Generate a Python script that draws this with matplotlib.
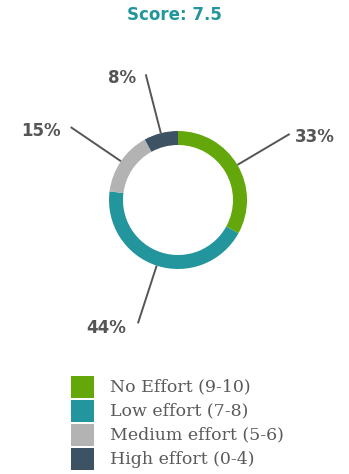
import numpy as np
import matplotlib
matplotlib.use("Agg")
import matplotlib.pyplot as plt
from matplotlib.patches import Rectangle

# effort split
categories = ['No Effort (9-10)', 'Low effort (7-8)', 'Medium effort (5-6)', 'High effort (0-4)']
shares = [33, 44, 15, 8]
colors = ['#64A70B', '#23959D', '#B3B3B3', '#3D5363']
score = 7.5

W, H = 349, 474
fig = plt.figure(figsize=(W / 100, H / 100), dpi=100)
ax = fig.add_axes([0, 0, 1, 1])

cx, cy, R = 178, H - 200, 69
wedges, _ = ax.pie(shares, colors=colors, startangle=90, counterclock=False,
                   center=(cx, cy), radius=R, frame=True,
                   wedgeprops=dict(width=14, edgecolor='none'))
ax.set_xlim(0, W)
ax.set_ylim(0, H)
ax.set_aspect('equal')
ax.axis('off')

label_font = dict(family='DejaVu Sans', weight='bold', size=12, color='#555555')
for w, s in zip(wedges, shares):
    mid = np.deg2rad((w.theta1 + w.theta2) / 2)
    x0, y0 = cx + R * np.cos(mid), cy + R * np.sin(mid)
    x1, y1 = cx + 1.88 * R * np.cos(mid), cy + 1.88 * R * np.sin(mid)
    ax.plot([x0, x1], [y0, y1], color='#555555', lw=1.4, solid_capstyle='butt')
    if np.cos(mid) > 0:
        ax.text(x1 + 5, y1 - 3, f'{s}%', ha='left', va='center', **label_font)
    elif np.sin(mid) < 0:
        ax.text(x1 - 12, y1 - 5, f'{s}%', ha='right', va='center', **label_font)
    else:
        ax.text(x1 - 10, y1 - 4, f'{s}%', ha='right', va='center', **label_font)

ax.text(W / 2, H - 15, f'Score: {score}', ha='center', va='center',
        family='DejaVu Sans', weight='bold', size=12, color='#23959D')

# legend
for i, (lab, c) in enumerate(zip(categories, colors)):
    yc = H - (387 + 24 * i)
    ax.add_patch(Rectangle((71, yc - 11), 23, 22, color=c, lw=0))
    ax.text(110, yc, lab, ha='left', va='center', family='DejaVu Serif',
            size=12.5, color='#5a5a5a')

fig.savefig('out.png', dpi=100)
